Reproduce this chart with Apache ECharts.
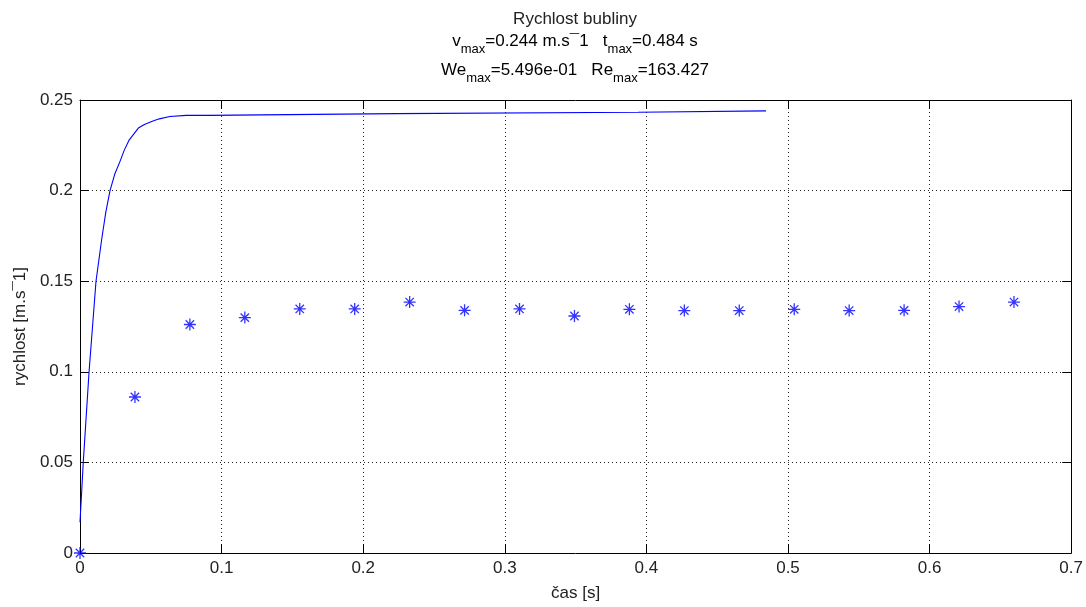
<!DOCTYPE html>
<html>
<head>
<meta charset="utf-8">
<script src="https://cdn.jsdelivr.net/npm/echarts@6/dist/echarts.min.js"></script>
<style>
html,body{margin:0;padding:0;background:#fff;}
#c{width:1086px;height:607px;}
</style>
</head>
<body>
<div id="c"></div>
<script>
// Model curve (time [s], velocity [m/s])
const curveT = [0, 0.0023, 0.0064, 0.0113, 0.0153, 0.0182, 0.0212, 0.0245, 0.0282, 0.0312, 0.0348, 0.0412, 0.0455, 0.0506, 0.056, 0.0635, 0.075, 0.0905, 0.0912, 0.223, 0.2238, 0.394, 0.3948, 0.4845];
const curveV = [0.017, 0.05, 0.1, 0.15, 0.173, 0.188, 0.2, 0.209, 0.216, 0.2222, 0.228, 0.2345, 0.2365, 0.2381, 0.2396, 0.2409, 0.2415, 0.2415, 0.2425, 0.2425, 0.2432, 0.2432, 0.244, 0.244];
// Measured points
const measT = [0, 0.0388, 0.0776, 0.1164, 0.1552, 0.194, 0.2328, 0.2716, 0.3104, 0.3492, 0.388, 0.4268, 0.4656, 0.5044, 0.5432, 0.582, 0.6208, 0.6596];
const measV = [0, 0.0861, 0.1261, 0.1299, 0.1347, 0.1347, 0.1385, 0.1339, 0.1347, 0.1308, 0.1345, 0.1338, 0.1338, 0.1345, 0.1338, 0.1339, 0.136, 0.1385];
const xTicks = ['0', '0.1', '0.2', '0.3', '0.4', '0.5', '0.6', '0.7'];
const yTicks = ['0', '0.05', '0.1', '0.15', '0.2', '0.25'];

const FONT = 'Liberation Sans, Arial, sans-serif';
const TXT = '#222';
const fs = 17;

const chart = echarts.init(document.getElementById('c'), null, {renderer: 'canvas'});

const gridStyle = {show: true, lineStyle: {color: '#222', width: 1, type: [1, 3]}};
const axisLineStyle = {show: true, onZero: false, lineStyle: {color: '#000', width: 1}};
const tickStyle = {show: true, inside: true, length: 9, lineStyle: {color: '#000'}};

const rich = {
  n: {fontFamily: FONT, fontSize: fs, color: TXT, lineHeight: 20, verticalAlign: 'top'},
  s: {fontFamily: FONT, fontSize: 13, color: TXT, lineHeight: 14, verticalAlign: 'top', padding: [10, 0, 0, 0]}
};

const option = {
  animation: false,
  backgroundColor: '#fff',
  grid: {left: 80, right: 14, top: 100, bottom: 51, containLabel: false},
  xAxis: [
    {
      type: 'value', min: 0, max: 0.7, interval: 0.1, position: 'bottom',
      axisLine: axisLineStyle, axisTick: tickStyle, splitLine: gridStyle,
      axisLabel: {color: TXT, fontFamily: FONT, fontSize: fs, margin: 7,
        formatter: (v) => xTicks[Math.round(v * 10)]},
      name: 'čas [s]', nameLocation: 'middle', nameGap: 32,
      nameTextStyle: {color: TXT, fontFamily: FONT, fontSize: fs}
    },
    {
      type: 'value', min: 0, max: 0.7, interval: 0.1, position: 'top',
      axisLine: axisLineStyle, axisTick: tickStyle, splitLine: {show: false},
      axisLabel: {show: false}
    }
  ],
  yAxis: [
    {
      type: 'value', min: 0, max: 0.25, interval: 0.05, position: 'left',
      axisLine: axisLineStyle, axisTick: tickStyle, splitLine: gridStyle,
      axisLabel: {color: TXT, fontFamily: FONT, fontSize: fs, margin: 7,
        formatter: (v) => yTicks[Math.round(v * 20)]},
      name: 'rychlost [m.s¯1]', nameLocation: 'middle', nameGap: 46,
      nameTextStyle: {color: TXT, fontFamily: FONT, fontSize: fs}
    },
    {
      type: 'value', min: 0, max: 0.25, interval: 0.05, position: 'right',
      axisLine: axisLineStyle, axisTick: tickStyle, splitLine: {show: false},
      axisLabel: {show: false}
    }
  ],
  graphic: [
    {type: 'text', x: 575, y: 11, style: {text: 'Rychlost bubliny', fill: TXT, font: fs + 'px ' + FONT, textAlign: 'center'}},
    {type: 'text', x: 575, y: 33, style: {text: '{n|v}{s|max}{n|=0.244 m.s¯1   t}{s|max}{n|=0.484 s}', rich: rich, textAlign: 'center'}},
    {type: 'text', x: 575, y: 62, style: {text: '{n|We}{s|max}{n|=5.496e-01   Re}{s|max}{n|=163.427}', rich: rich, textAlign: 'center'}}
  ],
  series: [
    {
      type: 'line', xAxisIndex: 0, yAxisIndex: 0,
      data: curveT.map((t, i) => [t, curveV[i]]),
      showSymbol: false, smooth: false,
      lineStyle: {color: '#0000ff', width: 1.1},
      z: 3
    },
    {
      type: 'scatter', xAxisIndex: 0, yAxisIndex: 0,
      data: measT.map((t, i) => [t, measV[i]]),
      symbol: 'path://M50,0L50,100M0,50L100,50M15,15L85,85M15,85L85,15',
      symbolSize: 12,
      itemStyle: {color: 'none', borderColor: '#0000ff', borderWidth: 1.3},
      z: 4
    }
  ]
};
chart.setOption(option);
</script>
</body>
</html>
